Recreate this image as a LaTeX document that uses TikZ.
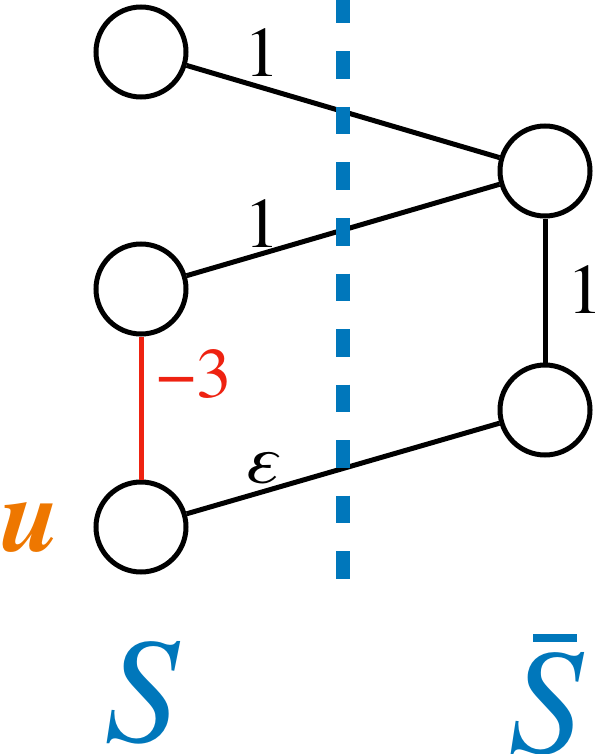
\documentclass[tikz,border=0pt]{standalone}
\usepackage{fontspec}
\setmainfont{texgyretermes}[
  Extension=.otf,
  UprightFont=*-regular,
  ItalicFont=*-italic,
  BoldFont=*-bold,
  BoldItalicFont=*-bolditalic]
\definecolor{cutblue}{RGB}{0,119,187}
\definecolor{negred}{RGB}{238,34,17}
\definecolor{uorange}{RGB}{238,119,0}

\begin{document}
\begin{tikzpicture}[x=1pt,y=1pt,yscale=-1,xscale=1,
  vert/.style={draw,circle,line width=5pt,minimum size=90pt,inner sep=0pt},
  edge/.style={line width=5pt},
  wlabel/.style={anchor=base,inner sep=0pt,font=\fontsize{71}{71}\selectfont},
  setlabel/.style={anchor=base,inner sep=0pt,text=cutblue,font=\fontsize{150}{150}\selectfont\itshape}]
\useasboundingbox (0,0) rectangle (597,754);

%Shape: Circle (left side)
\node[vert] (s1) at (141,52) {};
\node[vert] (s2) at (141,289) {};
\node[vert] (u) at (141,527) {};
%Shape: Circle (right side)
\node[vert] (t1) at (545,171) {};
\node[vert] (t2) at (545,410) {};

%Straight Lines
\draw[edge] (s1) -- (t1);
\draw[edge] (s2) -- (t1);
\draw[edge] (u) -- (t2);
\draw[edge] (t1) -- (t2);
\draw[edge,negred] (s2) -- (u);

%Cut line
\draw[cutblue,line width=14pt,dash pattern=on 27.5pt off 28pt] (343,-4) -- (343,579);

% Text Node
\node[wlabel] (w1) at (262,77) {1};
% Text Node
\node[wlabel] (w2) at (262,247) {1};
% Text Node
\node[wlabel] (w3) at (585,313) {1};
% Text Node
\node[wlabel,text=negred] (w4) at (194,397) {−3};
% Text Node
\node[wlabel,font=\fontsize{71}{71}\selectfont\itshape] (w5) at (261,483) {ε};
% Text Node
\node[anchor=base,inner sep=0pt,text=uorange,font=\fontsize{106}{106}\selectfont\bfseries\itshape] (ulab) at (31,551) {u};
% Text Node
\node[setlabel] (S) at (142,741) {S};
% Text Node
\node[setlabel] (Sbar) at (546,752) {\rlap{\hspace{24.5pt}\rule[110pt]{44pt}{8pt}}S};
\end{tikzpicture}
\end{document}
